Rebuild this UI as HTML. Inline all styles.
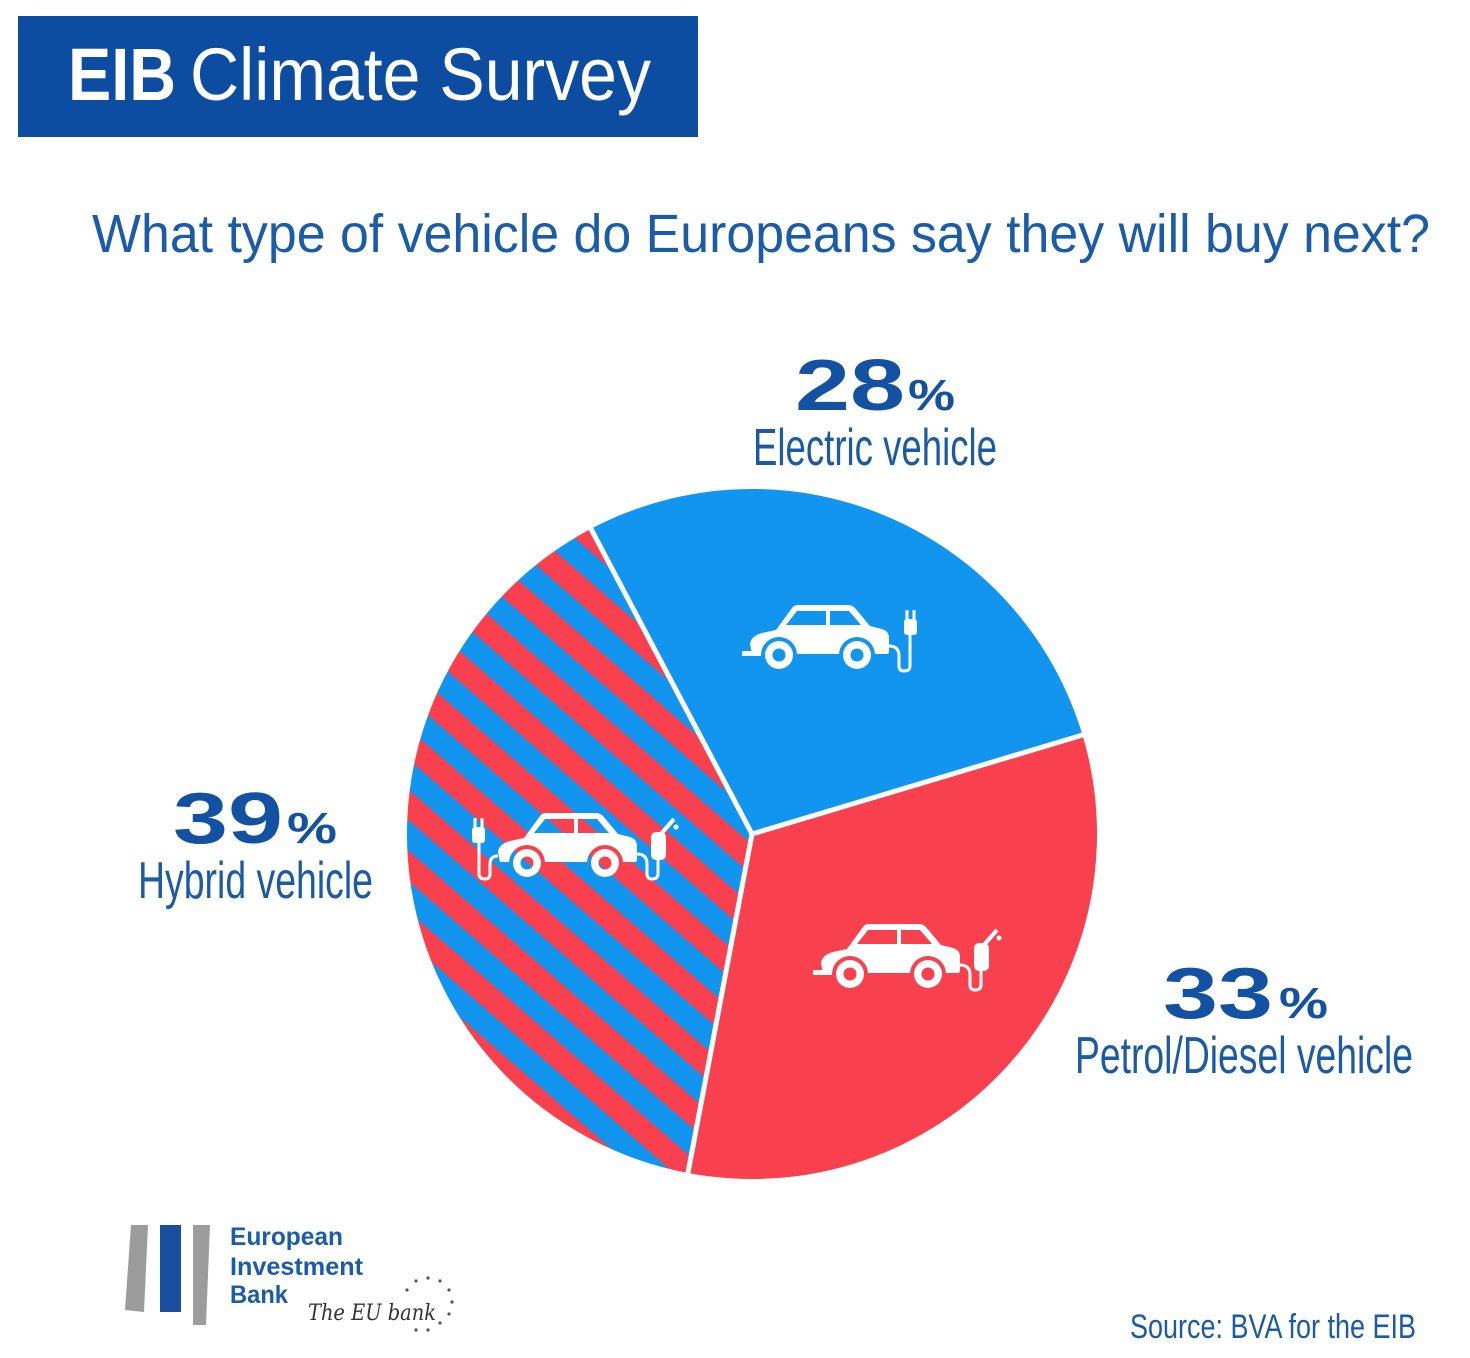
<!DOCTYPE html>
<html><head><meta charset="utf-8"><style>
html,body{margin:0;padding:0;background:#fff;}
svg{display:block;}
text{font-family:"Liberation Sans",sans-serif;}
</style></head><body>
<svg width="1470" height="1358" viewBox="0 0 1470 1358" xmlns="http://www.w3.org/2000/svg">
<defs>
  <pattern id="st" patternUnits="userSpaceOnUse" width="100" height="46" patternTransform="rotate(41)">
    <rect width="100" height="46" fill="#1195EF"/>
    <rect y="5.9" width="100" height="23" fill="#F8404F"/>
  </pattern>
  <g id="carBody">
    <path d="M10 52 L8 42 Q9 34 20 31 L34 28 L50 6 Q52 3 56 3 L106 3 Q110 3 113 6 L128 24 L140 27 Q147 29 147 36 L147 50 Q147 52 144 52 Z" fill="#fff"/>
    <path d="M55 9 L84 9 L84 23 L44 23 Z" fill="#000"/>
    <path d="M88 9 L107 9 L119 23 L88 23 Z" fill="#000"/>
    <circle cx="37" cy="53" r="18" fill="#000"/>
    <circle cx="115" cy="53" r="18" fill="#000"/>
    <circle cx="37" cy="53" r="14" fill="#fff"/>
    <circle cx="115" cy="53" r="14" fill="#fff"/>
    <circle cx="37" cy="53" r="6.5" fill="#000"/>
    <circle cx="115" cy="53" r="6.5" fill="#000"/>
  </g>
  <g id="plugR">
    <path d="M147 44 Q157 44 157 54 L157 64 Q157 69 162 69 Q168 69 168 64 L168 32" fill="none" stroke="#fff" stroke-width="3"/>
    <rect x="162" y="17" width="13" height="16" rx="3" fill="#fff"/>
    <rect x="163.5" y="8" width="3" height="10" fill="#fff"/>
    <rect x="170.5" y="8" width="3" height="10" fill="#fff"/>
  </g>
  <g id="nozzleR">
    <path d="M147 44 Q157 44 157 54 L157 64 Q157 69 162 69 Q168 69 168 64 L168 48" fill="none" stroke="#fff" stroke-width="3"/>
    <rect x="161" y="22" width="15" height="28" rx="5" fill="#fff"/>
    <path d="M170 25 L184 9" stroke="#fff" stroke-width="4" fill="none"/>
    <circle cx="186" cy="17" r="2.5" fill="#fff"/>
  </g>
  <g id="plugL">
    <path d="M8 46 Q0 46 0 54 L0 64 Q0 69 -5 69 Q-11 69 -11 64 L-11 32" fill="none" stroke="#fff" stroke-width="3"/>
    <rect x="-18" y="17" width="13" height="16" rx="3" fill="#fff"/>
    <rect x="-16.5" y="8" width="3" height="10" fill="#fff"/>
    <rect x="-9.5" y="8" width="3" height="10" fill="#fff"/>
  </g>
  <mask id="mE" maskUnits="userSpaceOnUse" x="-40" y="-20" width="280" height="120">
    <rect x="0" y="49" width="22" height="5" fill="#fff"/>
    <use href="#carBody"/>
    <use href="#plugR"/>
  </mask>
  <mask id="mP" maskUnits="userSpaceOnUse" x="-40" y="-20" width="280" height="120">
    <rect x="0" y="49" width="22" height="5" fill="#fff"/>
    <use href="#carBody"/>
    <use href="#nozzleR"/>
  </mask>
  <mask id="mH" maskUnits="userSpaceOnUse" x="-40" y="-20" width="280" height="120">
    <use href="#carBody"/>
    <use href="#plugL"/>
    <use href="#nozzleR"/>
  </mask>
</defs>

<!-- Banner -->
<rect x="18" y="16" width="680" height="121" fill="#0C4DA2"/>
<text x="68" y="100" font-size="74" font-weight="bold" fill="#fff" textLength="108" lengthAdjust="spacingAndGlyphs">EIB</text>
<text x="190" y="100" font-size="74" fill="#fff" textLength="461" lengthAdjust="spacingAndGlyphs">Climate Survey</text>

<!-- Question -->
<text x="92" y="252" font-size="54" fill="#1A5CA8" textLength="1338" lengthAdjust="spacingAndGlyphs">What type of vehicle do Europeans say they will buy next?</text>

<!-- Pie -->
<path d="M752 834 L591.1 528.8 A345 345 0 0 1 1082.6 735.4 Z" fill="#1195EF"/>
<path d="M752 834 L1082.6 735.4 A345 345 0 0 1 687.9 1173 Z" fill="#F8404F"/>
<path d="M752 834 L687.9 1173 A345 345 0 0 1 591.1 528.8 Z" fill="url(#st)"/>
<g stroke="#fff" stroke-width="5" stroke-linecap="round">
  <line x1="752" y1="834" x2="590" y2="527"/>
  <line x1="752" y1="834" x2="1086" y2="734"/>
  <line x1="752" y1="834" x2="687" y2="1178"/>
</g>

<!-- Icons -->
<g transform="translate(742,602)"><rect x="-30" y="-10" width="240" height="90" fill="#fff" mask="url(#mE)"/></g>
<g transform="translate(813,921)"><rect x="-30" y="-10" width="240" height="90" fill="#fff" mask="url(#mP)"/></g>
<g transform="translate(490,810)"><rect x="-30" y="-10" width="240" height="90" fill="#fff" mask="url(#mH)"/></g>

<!-- Labels -->
<g fill="#1352A3" font-weight="bold">
  <text x="795" y="410" font-size="72" textLength="110" lengthAdjust="spacingAndGlyphs">28</text>
  <text x="908" y="410" font-size="44" textLength="47" lengthAdjust="spacingAndGlyphs">%</text>
  <text x="173" y="843" font-size="72" textLength="110" lengthAdjust="spacingAndGlyphs">39</text>
  <text x="287" y="843" font-size="44" textLength="50" lengthAdjust="spacingAndGlyphs">%</text>
  <text x="1163" y="1018" font-size="72" textLength="110" lengthAdjust="spacingAndGlyphs">33</text>
  <text x="1279" y="1018" font-size="44" textLength="49" lengthAdjust="spacingAndGlyphs">%</text>
</g>
<g fill="#1B5AA5" font-size="52">
  <text x="753" y="465" textLength="244" lengthAdjust="spacingAndGlyphs">Electric vehicle</text>
  <text x="138" y="898" textLength="235" lengthAdjust="spacingAndGlyphs">Hybrid vehicle</text>
  <text x="1075" y="1073" textLength="338" lengthAdjust="spacingAndGlyphs">Petrol/Diesel vehicle</text>
</g>

<!-- Source -->
<text x="1130" y="1338" font-size="34" fill="#1B5AA5" textLength="286" lengthAdjust="spacingAndGlyphs">Source: BVA for the EIB</text>

<!-- Logo -->
<polygon points="131,1225 148,1225 144,1312 125,1310" fill="#9C9C9C"/>
<rect x="160" y="1225" width="21" height="87" fill="#1A4F9F"/>
<polygon points="193,1225 210,1225 206,1325 193,1325" fill="#9C9C9C"/>
<g fill="#1A5CA8" font-weight="bold" font-size="25">
  <text x="230" y="1245" textLength="113" lengthAdjust="spacingAndGlyphs">European</text>
  <text x="230" y="1275" textLength="133" lengthAdjust="spacingAndGlyphs">Investment</text>
  <text x="230" y="1303" textLength="58" lengthAdjust="spacingAndGlyphs">Bank</text>
</g>
<text x="308" y="1320" font-size="22" fill="#333" textLength="128" lengthAdjust="spacingAndGlyphs" style="font-family:'DejaVu Serif',serif;font-style:italic">The EU bank</text>
<g fill="#555">
  <circle cx="428" cy="1278" r="1.6"/>
  <circle cx="440" cy="1281" r="1.6"/>
  <circle cx="449" cy="1290" r="1.6"/>
  <circle cx="452" cy="1302" r="1.6"/>
  <circle cx="449" cy="1314" r="1.6"/>
  <circle cx="440" cy="1323" r="1.6"/>
  <circle cx="428" cy="1330" r="1.6"/>
  <circle cx="416" cy="1281" r="1.6"/>
  <circle cx="407" cy="1290" r="1.6"/>
  <circle cx="416" cy="1330" r="1.6"/>
</g>
</svg>
</body></html>
